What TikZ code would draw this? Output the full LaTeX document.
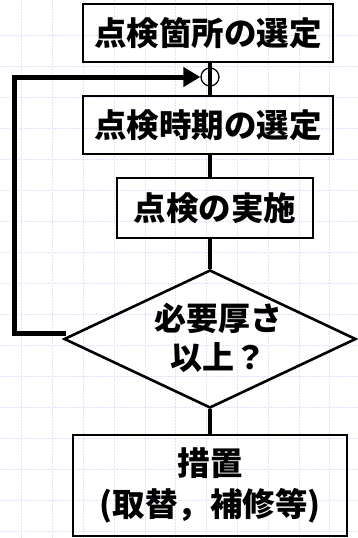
\documentclass[tikz,border=0pt]{standalone}
\usepackage{fontspec}
\newfontfamily\jp{Noto Sans CJK JP}
\usetikzlibrary{shapes.geometric,arrows.meta}
\definecolor{gridblue}{RGB}{222,228,248}
\tikzset{
  gridline/.style={draw=gridblue, line width=0.8pt, dash pattern=on 1.5pt off 1.5pt},
  stepbox/.style={draw, line width=2.6pt, inner sep=0pt, align=center, font=\jp\bfseries\fontsize{32.5}{41}\selectfont},
  lbl/.style={inner sep=0pt, align=center, font=\jp\bfseries\fontsize{32}{39}\selectfont},
  conn/.style={line width=4pt},
  backloop/.style={line width=5pt, -{Triangle[length=17pt,width=19pt]}},
}
\begin{document}
\begin{tikzpicture}[x=1pt,y=-1pt]
\useasboundingbox (0,0) rectangle (358,538);
\fill[white] (0,0) rectangle (358,538);
% background grid
\foreach \i in {0,...,10} \draw[gridline] ({21.7+30.8*\i},0) -- ({21.7+30.8*\i},538);
\foreach \j in {0,...,16} \draw[gridline] (0,{35+31*\j}) -- (358,{35+31*\j});
% nodes
\node[stepbox, minimum width=250pt, minimum height=58pt] (b1) at (208,33) {点検箇所の選定};
\node[stepbox, minimum width=250pt, minimum height=58pt] (b2) at (208,125) {点検時期の選定};
\node[stepbox, minimum width=196pt, minimum height=60pt] (b3) at (215,208) {点検の実施};
\node[diamond, draw, line width=2.6pt, inner sep=0pt, minimum width=292pt, minimum height=138pt] (dia) at (210,339) {};
\node[lbl] (dlbl) at (218,338) {必要厚さ\\以上？};
\node[stepbox, minimum width=274pt, minimum height=101pt] (b4) at (210,485.5) {措置\\(取替，補修等)};
\node[circle, draw, line width=1.3pt, minimum size=18pt, inner sep=0pt] (junc) at (210,77) {};
% connectors
\draw[conn] (junc |- b1.south) -- (junc |- b2.north);
\draw[conn] (junc |- b2.south) -- (junc |- b3.north);
\draw[conn] (junc |- b3.south) -- (dia.north);
\draw[conn] (dia.south) -- (junc |- b4.north);
\coordinate (lstart) at (66,333);
\coordinate (lcorner) at (14,333);
\draw[backloop, line join=miter] (lstart) -- (lcorner) |- (junc.west);
\end{tikzpicture}
\end{document}
